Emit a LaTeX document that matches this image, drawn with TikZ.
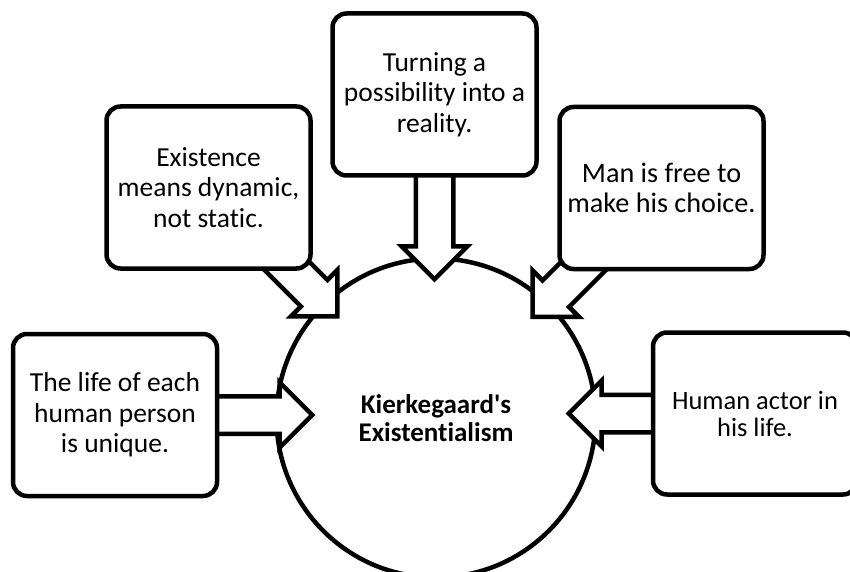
\documentclass[tikz,border=0pt]{standalone}
\usepackage{fontspec}
\setmainfont{Carlito}[Ligatures=NoCommon]
\usetikzlibrary{shapes.arrows,backgrounds}
\begin{document}
\begin{tikzpicture}[x=1pt,y=1pt,idea/.style={shape=rectangle,rounded corners=14pt,draw=black,line width=4.5pt,fill=white,minimum width=204pt,minimum height=162pt,align=center,font=\fontsize{27.5}{30.5}\selectfont},core/.style={shape=circle,draw=black,line width=4.5pt,fill=white,minimum size=319pt,align=center,font=\bfseries\fontsize{27}{28.5}\selectfont},push/.style={single arrow,draw=black,line width=4.5pt,fill=white,inner sep=16.5pt,single arrow head extend=14pt,anchor=tail}]
\def\cx{436};
\def\cy{153};

\useasboundingbox (0,0) rectangle (850,571);

\node[idea] (tTop) at (434.5,476.5) {Turning a\\possibility into a\\reality.};
\node[idea] (tUL) at (208.5,383.5) {Existence\\means dynamic,\\not static.};
\node[idea,font=\fontsize{28.2}{30}\selectfont] (tUR) at (661.5,383) {Man is free to\\make his choice.};
\node[idea] (tL) at (115,156) {The life of each\\human person\\is unique.};
\node[idea,font=\fontsize{26.5}{27}\selectfont] (tR) at (755,157.5) {Human actor in\\his life.};

\begin{scope}[on background layer]
\node[core] (K) at (\cx,\cy) {Kierkegaard\textquotesingle s\\Existentialism};
\node[push,rotate=-90,minimum height=182.5pt] (aTop) at (tTop.center) {};
\node[push,rotate=-45,minimum height=180pt] (aUL) at (tUL.center) {};
\node[push,rotate=-135,minimum height=180pt] (aUR) at (tUR.center) {};
\node[push,rotate=0,minimum height=195pt] (aL) at (tL.center) {};
\node[push,rotate=180,minimum height=184pt] (aR) at (tR.center) {};
\end{scope}
\end{tikzpicture}
\end{document}
